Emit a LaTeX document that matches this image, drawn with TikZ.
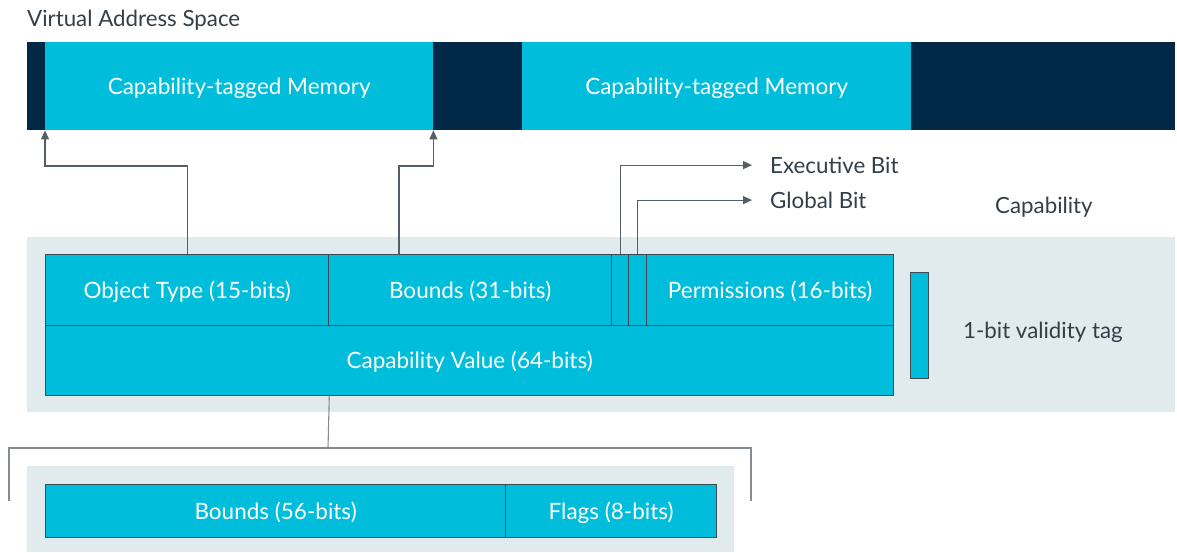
\documentclass[tikz,border=0pt]{standalone}
\usepackage{fontspec}
\setmainfont{Lato}
\usetikzlibrary{arrows.meta}
\definecolor{cyanfill}{HTML}{00BEDB}
\definecolor{navy}{HTML}{022847}
\definecolor{panel}{HTML}{E1EAEC}
\definecolor{edge}{HTML}{3E4A54}
\definecolor{wire}{HTML}{555D65}
\definecolor{bracketgray}{HTML}{858B91}
\definecolor{ink}{HTML}{333E48}
\begin{document}
\begin{tikzpicture}[x=1pt,y=-1pt,
  seg/.style={fill=cyanfill, text=white, inner sep=0pt, anchor=north west,
    minimum height=88pt, font=\fontsize{22.5}{27}\selectfont,
    text height=16.6pt, text depth=0pt},
  cell/.style={draw=edge, line width=1.3pt, fill=cyanfill, text=white,
    inner sep=0pt, anchor=north west, font=\fontsize{22.5}{27}\selectfont,
    text height=16.2pt, text depth=0pt},
  backdrop/.style={fill=panel, inner sep=0pt, anchor=north west},
  label/.style={text=ink, inner sep=0pt, anchor=base west,
    font=\fontsize{22.3}{26}\selectfont, text height=15.8pt, text depth=0pt},
  wirearrow/.style={draw=wire, line width=1.1pt,
    -{Triangle[length=9pt,width=8pt]}},
  plainwire/.style={draw=bracketgray, line width=1.1pt}]

\useasboundingbox (0,0) rectangle (1177,552);

% title
\node[label] (title) at (27,26) {Virtual Address Space};

% virtual address space bar
\node[seg, fill=navy, minimum width=18pt]  (d1) at (27,42)  {};
\node[seg, minimum width=388pt]            (m1) at (45,42)  {Capability-tagged Memory};
\node[seg, fill=navy, minimum width=89pt]  (d2) at (433,42) {};
\node[seg, minimum width=389pt]            (m2) at (522,42) {Capability-tagged Memory};
\node[seg, fill=navy, minimum width=264pt] (d3) at (911,42) {};

% capability panel
\node[backdrop, minimum width=1148pt, minimum height=175pt] (cappanel) at (27,237) {};
\node[label] (caplabel) at (995,213) {Capability};

\node[cell, minimum width=283pt, minimum height=71pt] (ot) at (45,254)  {Object Type (15-bits)};
\node[cell, minimum width=283pt, minimum height=71pt] (bd) at (328,254) {Bounds (31-bits)};
\node[cell, minimum width=17pt,  minimum height=71pt] (b1) at (611,254) {};
\node[cell, minimum width=18pt,  minimum height=71pt] (b2) at (628,254) {};
\node[cell, minimum width=247pt, minimum height=71pt] (pm) at (646,254) {Permissions (16-bits)};
\node[cell, minimum width=848pt, minimum height=70pt] (cv) at (45,325)  {Capability Value (64-bits)};

\node[cell, minimum width=18pt, minimum height=106pt] (tag) at (910,272) {};
\node[label] (taglabel) at (963,338) {1-bit validity tag};

% bit labels
\node[label] (exec) at (770,173) {Executive Bit};
\node[label] (glob) at (770,208) {Global Bit};

% pointers into memory
\draw[wirearrow] (ot.north) -- ++(0,-88) -| (m1.south west);
\draw[wirearrow] ([xshift=71pt]bd.north west) -- ++(0,-88) -| (m1.south east);

% permission bit callouts
\draw[wirearrow] (b1.north) |- ([xshift=-18pt]exec.west);
\draw[wirearrow] (b2.north) |- ([xshift=-18pt]glob.west);

% capability value breakdown
\coordinate (split) at (328,448);
\coordinate (bl) at (9,501);
\coordinate (br) at (751,501);
\draw[plainwire] (ot.south east |- cv.south) -- (split);
\draw[plainwire] (bl) |- (split) -| (br);

\node[backdrop, minimum width=707pt, minimum height=86pt] (lowpanel) at (27,466) {};
\node[cell, minimum width=460pt, minimum height=53pt] (b56) at (45,484)  {Bounds (56-bits)};
\node[cell, minimum width=211pt, minimum height=53pt] (fl)  at (505,484) {Flags (8-bits)};

\end{tikzpicture}
\end{document}
